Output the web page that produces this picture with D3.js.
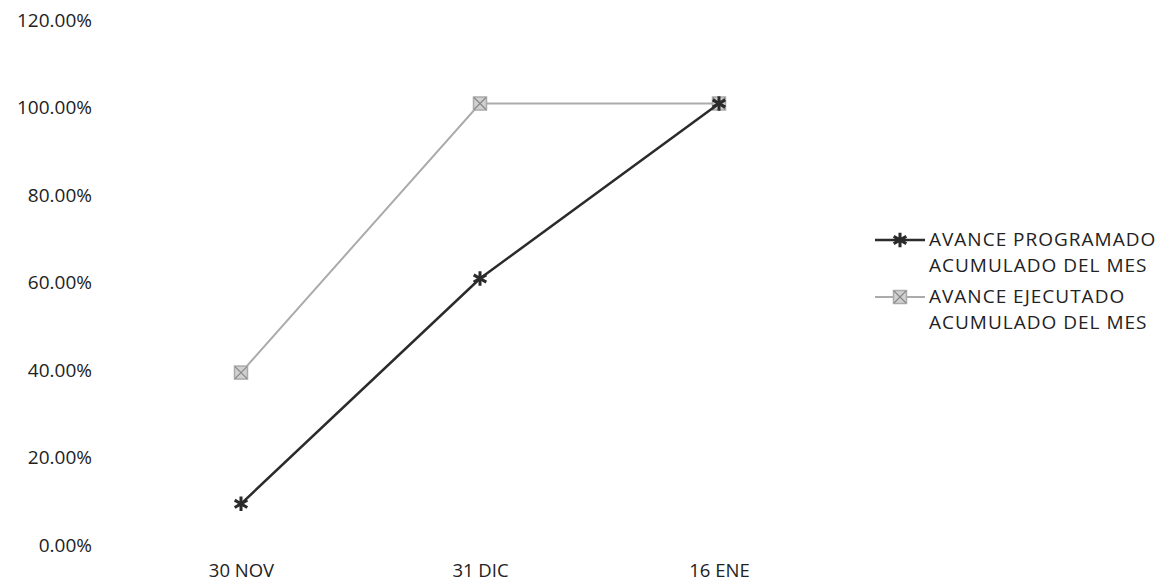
<!DOCTYPE html>
<html>
<head>
<meta charset="utf-8">
<script src="https://cdn.jsdelivr.net/npm/d3@7"></script>
<style>
  body { margin: 0; background: #fff; }
  text { font-family: "Open Sans", "Liberation Sans", sans-serif; fill: #222; }
</style>
</head>
<body>
<svg></svg>
<script>
let categories = ['30 NOV', '31 DIC', '16 ENE']
let programado = [0.085, 0.60, 1.00]
let ejecutado = [0.385, 1.00, 1.00]
let yTicks = [0, 0.2, 0.4, 0.6, 0.8, 1.0, 1.2]
let seriesNames = [
    ['AVANCE PROGRAMADO', 'ACUMULADO DEL MES'],
    ['AVANCE EJECUTADO', 'ACUMULADO DEL MES']
]

let width = 1169
let height = 584

let svg = d3.select('svg')
    .attr('width', width)
    .attr('height', height)

let xScale = d3.scalePoint()
    .domain(categories)
    .range([241, 719])

let yScale = d3.scaleLinear()
    .domain([0, 1.2])
    .range([541, 16])

// y axis: labels only
let yAxis = d3.axisLeft(yScale)
    .tickValues(yTicks)
    .tickSize(0)
    .tickPadding(0)
    .tickFormat(d3.format('.2%'))

svg.append('g')
    .attr('transform', 'translate(92,4)')
    .call(yAxis)
    .call(g => g.select('.domain').remove())
    .selectAll('text')
    .style('font-size', '19px')
    .attr('fill', '#333')

let xAxis = d3.axisBottom(xScale)
    .tickSize(0)
    .tickPadding(0)

svg.append('g')
    .attr('transform', 'translate(0,564)')
    .call(xAxis)
    .call(g => g.select('.domain').remove())
    .selectAll('text')
    .style('font-size', '18.5px')
    .attr('fill', '#333')

let line = d3.line()
    .x((d, i) => xScale(categories[i]))
    .y(d => yScale(d))

let series = [
    { values: programado, color: '#2b2b2b', width: 2.5, marker: 'star' },
    { values: ejecutado, color: '#ababab', width: 2, marker: 'square' }
]

let drawMarker = (g, type, color) => {
    if (type === 'star') {
        g.append('path')
            .attr('d', d3.symbol().type(d3.symbolAsterisk).size(150)())
            .attr('fill', 'none')
            .attr('stroke', color)
            .attr('stroke-width', 3)
    } else {
        g.append('rect')
            .attr('x', -6.5).attr('y', -6.5)
            .attr('width', 13).attr('height', 13)
            .attr('fill', '#d0d0d0')
            .attr('stroke', color)
            .attr('stroke-width', 1.5)
        g.append('path')
            .attr('d', 'M-6,-6L6,6M6,-6L-6,6')
            .attr('stroke', '#888')
            .attr('stroke-width', 1.2)
    }
}

series.slice().reverse().forEach(s => {
    svg.append('path')
        .datum(s.values)
        .attr('d', line)
        .attr('fill', 'none')
        .attr('stroke', s.color)
        .attr('stroke-width', s.width)

    s.values.forEach((v, i) => {
        let g = svg.append('g')
            .attr('transform', 'translate(' + xScale(categories[i]) + ',' + yScale(v) + ')')
        drawMarker(g, s.marker, s.color)
    })
})

// legend
let legend = svg.append('g')
series.forEach((s, i) => {
    let y = 240 + i * 57
    legend.append('line')
        .attr('x1', 875).attr('x2', 925)
        .attr('y1', y).attr('y2', y)
        .attr('stroke', s.color)
        .attr('stroke-width', s.width)
    let g = legend.append('g').attr('transform', 'translate(900,' + y + ')')
    drawMarker(g, s.marker, s.color)
    seriesNames[i].forEach((t, j) => {
        legend.append('text')
            .attr('x', 929)
            .attr('y', y + 6 + j * 26)
            .style('font-size', '19px')
            .style('letter-spacing', '1px')
            .text(t)
    })
})
</script>
</body>
</html>
